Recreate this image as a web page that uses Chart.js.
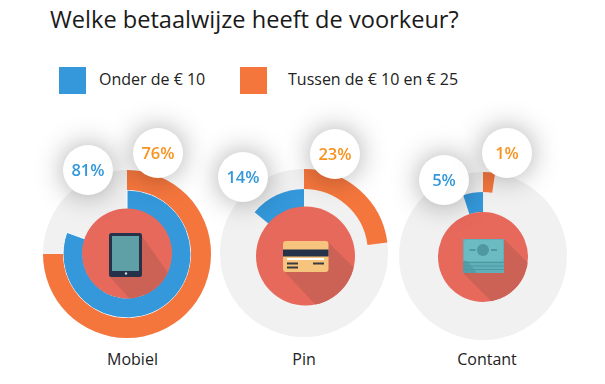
<!DOCTYPE html>
<html>
<head>
<meta charset="utf-8">
<script src="https://cdn.jsdelivr.net/npm/chart.js@4"></script>
<style>
  html, body { margin: 0; padding: 0; background: #fff; }
  body { width: 605px; height: 384px; position: relative; overflow: hidden; font-family: "Open Sans", sans-serif; color: #1a1a1a; }
  .abs { position: absolute; }
  #title { left: 50px; top: 4px; font-size: 23.6px; line-height: 30px; white-space: nowrap; }
  .swatch { width: 27px; height: 27px; top: 67px; }
  .legtext { top: 68px; font-size: 16px; line-height: 22px; white-space: nowrap; color: #222; }
  .disc { width: 168px; height: 168px; border-radius: 50%; background: #f1f1f1; }
  canvas { position: absolute; }
  #icons { left: 0; top: 0; }
  .bubble { width: 50px; height: 50px; border-radius: 50%; background: #fff; box-shadow: 0 0 28px rgba(0,0,0,.34);
    text-align: center; line-height: 50px; font-size: 16.5px; font-weight: 600; }
  .cat { width: 120px; text-align: center; font-size: 16px; line-height: 22px; color: #222; }
</style>
</head>
<body>
<div class="abs" id="title"></div>
<div class="abs swatch" id="sw0" style="left:59px"></div>
<div class="abs legtext" id="lg0" style="left:99px"></div>
<div class="abs swatch" id="sw1" style="left:240px"></div>
<div class="abs legtext" id="lg1" style="left:288px"></div>
<div id="stage"></div>
<svg class="abs" id="icons" width="605" height="384" style="z-index:2">
  <defs>
    <clipPath id="c0"><circle cx="127" cy="253.5" r="45"/></clipPath>
    <clipPath id="c1"><circle cx="305.5" cy="256" r="49.5"/></clipPath>
    <clipPath id="c2"><circle cx="483" cy="257" r="45"/></clipPath>
  </defs>
  <!-- tablet -->
  <circle cx="127" cy="253.5" r="45" fill="#e7695c"/>
  <polygon clip-path="url(#c0)" points="142,236 180,290 180,310 140,310 109,276" fill="#cc6155"/>
  <rect x="109" y="233" width="33" height="44" rx="2.5" fill="#26324a"/>
  <rect x="112" y="236" width="27" height="35" fill="#5f9fa6"/>
  <circle cx="126" cy="273.5" r="1.2" fill="#cfd6dc"/>
  <!-- card -->
  <circle cx="305.5" cy="256" r="49.5" fill="#e7695c"/>
  <polygon clip-path="url(#c1)" points="328,242 365,279 365,315 325,315 284,271" fill="#cc6155"/>
  <rect x="283" y="241" width="45.5" height="31" rx="3" fill="#f6c47c"/>
  <rect x="283" y="249.5" width="45.5" height="7" fill="#26324a"/>
  <rect x="287" y="258" width="37" height="2" fill="#fff"/>
  <rect x="287" y="262.5" width="11" height="2" fill="#3a3a40"/>
  <rect x="313" y="262.5" width="11" height="2" fill="#3a3a40"/>
  <rect x="287" y="266.5" width="11" height="2" fill="#3a3a40"/>
  <!-- cash -->
  <circle cx="483" cy="257" r="45" fill="#e7695c"/>
  <polygon clip-path="url(#c2)" points="504,239 540,275 540,310 500,310 463,273" fill="#cc6155"/>
  <rect x="463" y="239" width="41" height="34" fill="#5fb0b8"/>
  <rect x="464" y="240" width="39" height="21" rx="2" fill="#6cbac2"/>
  <circle cx="483" cy="250" r="6" fill="#4f97a3"/>
  <rect x="469.5" y="249" width="6" height="2" fill="#4f97a3"/>
  <rect x="491" y="249" width="6" height="2" fill="#4f97a3"/>
  <rect x="463" y="262" width="41" height="1" fill="#4f97a3"/>
  <rect x="463" y="265.5" width="41" height="1" fill="#4f97a3"/>
  <rect x="463" y="269" width="41" height="1" fill="#4f97a3"/>
  <polygon points="463,261 467,261 477,273 463,273" fill="#4f97a3" opacity=".7"/>
</svg>
<script>
const titleText = 'Welke betaalwijze heeft de voorkeur?';
const categories = ['Mobiel', 'Pin', 'Contant'];
const seriesNames = ['Onder de € 10', 'Tussen de € 10 en € 25'];
const onderLabels = ['81%', '14%', '5%'];
const tussenLabels = ['76%', '23%', '1%'];
// ring sweep as read from the arcs; Contant's orange arc is drawn wider than its 1% label
const onderValues = [80.5, 14, 5];
const tussenValues = [75, 23, 2.3];
// Pin and Contant run the blue arc backwards from 12 o'clock
const onderBackwards = [false, true, true];
// only Mobiel has the thin white edge on the blue arc
const onderEdge = [1, 0, 0];

const BLUE = '#3498db';
const ORANGE = '#f5763d';
const LABEL_ORANGE = '#f7931e';

const centers = [[127, 254], [304, 253], [483, 256]];
const catX = [132.5, 304, 487];
const onderBubble = [[88, 170], [243, 177], [444, 180]];
const tussenBubble = [[158, 153], [335, 154], [507, 153]];

document.getElementById('title').textContent = titleText;
document.getElementById('sw0').style.background = BLUE;
document.getElementById('sw1').style.background = ORANGE;
document.getElementById('lg0').textContent = seriesNames[0];
document.getElementById('lg1').textContent = seriesNames[1];

const stage = document.getElementById('stage');

function place(el, x, y, z) {
  el.style.left = x + 'px';
  el.style.top = y + 'px';
  el.style.zIndex = z;
  stage.appendChild(el);
}

function bubble(text, color, pos) {
  const b = document.createElement('div');
  b.className = 'abs bubble';
  b.textContent = text;
  b.style.color = color;
  place(b, pos[0] - 25, pos[1] - 25, 3);
}

categories.forEach((cat, i) => {
  const [cx, cy] = centers[i];
  const disc = document.createElement('div');
  disc.className = 'abs disc';
  place(disc, cx - 84, cy - 84, 0);

  const canvas = document.createElement('canvas');
  canvas.width = 168;
  canvas.height = 168;
  canvas.style.width = '168px';
  canvas.style.height = '168px';
  place(canvas, cx - 84, cy - 84, 1);

  new Chart(canvas, {
    type: 'doughnut',
    data: {
      labels: seriesNames,
      datasets: [
        {
          data: [tussenValues[i], 100 - tussenValues[i]],
          backgroundColor: [ORANGE, 'rgba(0,0,0,0)'],
          borderWidth: 0
        },
        {
          data: [onderValues[i], 100 - onderValues[i]],
          backgroundColor: [BLUE, 'rgba(0,0,0,0)'],
          borderColor: ['#fff', 'rgba(0,0,0,0)'],
          borderWidth: [onderEdge[i], 0],
          rotation: onderBackwards[i] ? -onderValues[i] * 3.6 : 0
        }
      ]
    },
    options: {
      responsive: false,
      animation: false,
      cutout: 44,
      plugins: { legend: { display: false }, tooltip: { enabled: false } }
    }
  });

  const label = document.createElement('div');
  label.className = 'abs cat';
  label.textContent = cat;
  place(label, catX[i] - 60, 348, 1);

  bubble(onderLabels[i], BLUE, onderBubble[i]);
  bubble(tussenLabels[i], LABEL_ORANGE, tussenBubble[i]);
});
</script>
</body>
</html>
